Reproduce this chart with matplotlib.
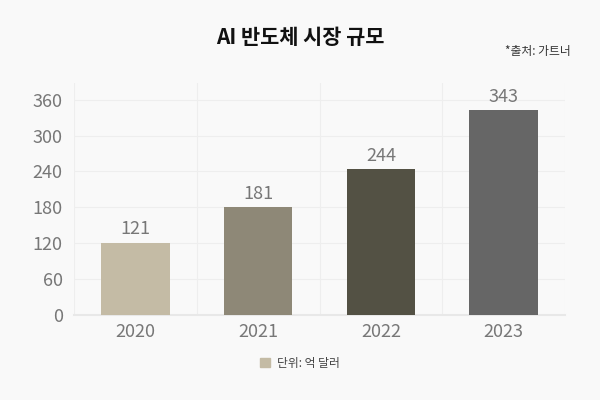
import matplotlib
matplotlib.use("Agg")
import matplotlib.pyplot as plt
import matplotlib.patches as mpatches

plt.rcParams['font.family'] = ['Noto Sans CJK KR', 'DejaVu Sans']

# Données
annees = ['2020', '2021', '2022', '2023']
valeurs = [121, 181, 244, 343]
couleurs = ['#c4bba5', '#8e8877', '#535144', '#666666']
y_ticks = [0, 60, 120, 180, 240, 300, 360]

fond = '#f9f9f9'
fig = plt.figure(figsize=(6, 4), dpi=100, facecolor=fond)
ax = fig.add_axes([0.123, 0.2125, 0.819, 0.58])
ax.set_facecolor(fond)

pos = range(len(annees))
ax.bar(pos, valeurs, width=0.56, color=couleurs, zorder=3)
for x, v in zip(pos, valeurs):
    ax.text(x, v + 7, str(v), ha='center', va='bottom', fontsize=13, color='#777777')

ax.set_xlim(-0.5, len(annees) - 0.5)
ax.set_ylim(0, 388)
ax.set_yticks(y_ticks)
ax.set_xticks(list(pos))
ax.set_xticklabels(annees)
ax.tick_params(axis='both', length=0, labelsize=13, labelcolor='#777777')
ax.tick_params(axis='x', pad=6)
ax.tick_params(axis='y', pad=8)

# grille
for y in y_ticks[1:]:
    ax.axhline(y, color='#eeeeee', lw=0.8, zorder=1)
for x in [-0.5, 0.5, 1.5, 2.5, 3.5]:
    ax.axvline(x, color='#eeeeee', lw=0.8, zorder=1)
for s in ['top', 'right', 'left']:
    ax.spines[s].set_visible(False)
ax.spines['bottom'].set_color('#e8e8e8')
ax.spines['bottom'].set_linewidth(1.5)

fig.text(0.5, 0.905, 'AI 반도체 시장 규모', ha='center', va='center', fontsize=15,
         color='#111111', fontweight='bold')
fig.text(0.952, 0.87, '*출처: 가트너', ha='right', va='center', fontsize=8.5, color='#333333')

patch = mpatches.Patch(color=couleurs[0], label='단위: 억 달러')
fig.legend(handles=[patch], loc='center', bbox_to_anchor=(0.5, 0.092), frameon=False,
           fontsize=8.5, labelcolor='#444444', handlelength=0.8, handleheight=0.8,
           handletextpad=0.6)

fig.savefig('out.png', facecolor=fond)
